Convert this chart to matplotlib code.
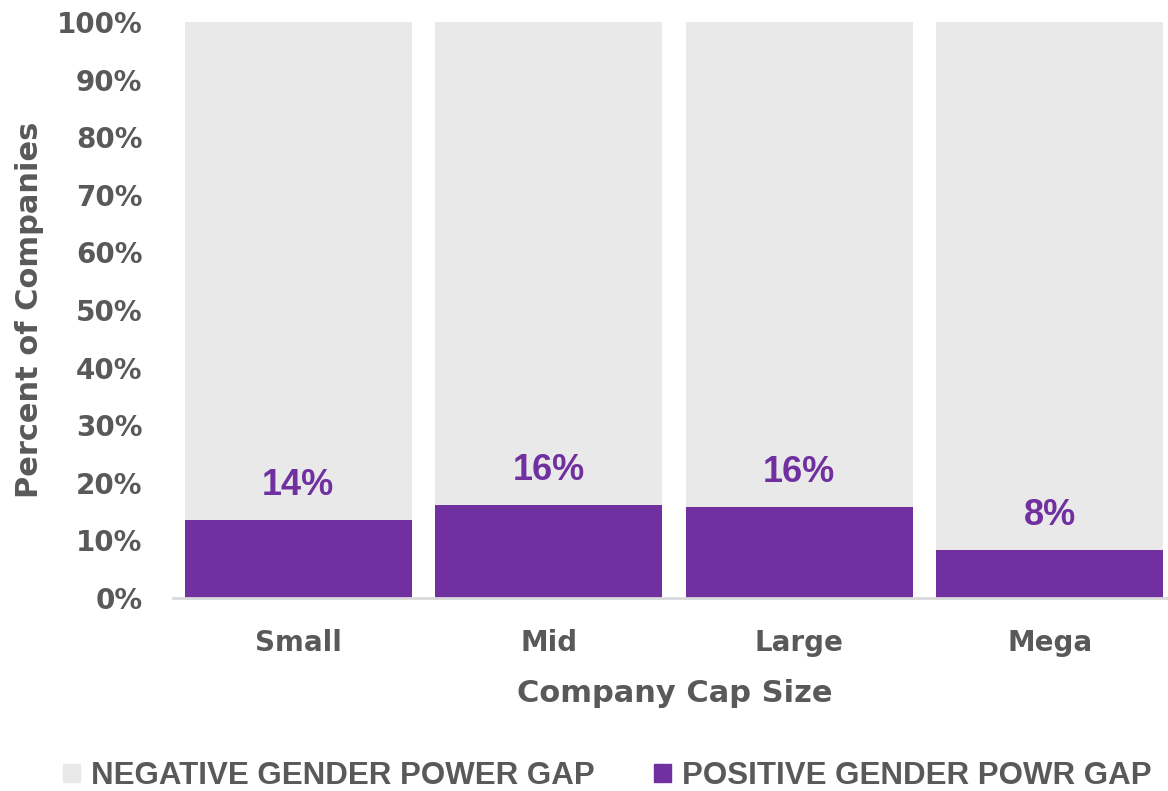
import matplotlib
matplotlib.use("Agg")
import matplotlib.pyplot as plt
from matplotlib.patches import Patch

categories = ["Small", "Mid", "Large", "Mega"]
positive = [13.5, 16.1, 15.8, 8.3]
labels = ["14%", "16%", "16%", "8%"]
negative = [100 - p for p in positive]
yticks = [0, 10, 20, 30, 40, 50, 60, 70, 80, 90, 100]

GRAY = "#595959"
PURPLE = "#7030A0"
LIGHT = "#E9E9E9"
HEAVY = ["DejaVu Sans"]
ARIAL = ["Liberation Sans", "DejaVu Sans"]

fig = plt.figure(figsize=(11.68, 7.91), dpi=100)
ax = fig.add_axes([173/1168, 1-598/791, (1175-173)/1168, (598-22)/791])

x = range(len(categories))
ax.bar(x, positive, width=0.905, color=PURPLE, zorder=2)
ax.bar(x, negative, bottom=positive, width=0.905, color=LIGHT, zorder=2)

for i, (p, lab) in enumerate(zip(positive, labels)):
    ax.annotate(lab, (i, p), xytext=(0, 25), textcoords="offset points",
                ha="center", va="center", color=PURPLE, fontsize=26,
                fontweight="bold", family=ARIAL)

ax.set_xlim(-0.5, 3.5)
ax.set_ylim(0, 100)
ax.set_yticks(yticks)
ax.set_yticklabels([f"{t}%" for t in yticks], fontsize=20, fontweight="bold",
                   color=GRAY, family=HEAVY)
ax.set_xticks(list(x))
ax.set_xticklabels(categories, fontsize=20, fontweight="bold", color=GRAY, family=HEAVY)
ax.tick_params(axis="y", length=0, pad=22)
ax.tick_params(axis="x", length=0, pad=22)
for s in ["top", "right", "left"]:
    ax.spines[s].set_visible(False)
ax.spines["bottom"].set_color("#D9D9D9")
ax.spines["bottom"].set_linewidth(2)
ax.spines["bottom"].set_zorder(3)

ax.set_xlabel("Company Cap Size", fontsize=22, fontweight="bold", color=GRAY, family=HEAVY)
ax.set_ylabel("Percent of Companies", fontsize=22, fontweight="bold", color=GRAY, family=HEAVY)
ax.xaxis.set_label_coords((675-173)/1002, (598-693)/576)
ax.yaxis.set_label_coords((30-173)/1002, (598-310)/576)
ax.xaxis.label.set_va("center")
ax.yaxis.label.set_va("center")

handles = [Patch(color=LIGHT, label="NEGATIVE GENDER POWER GAP"),
           Patch(color=PURPLE, label="POSITIVE GENDER POWR GAP")]
leg = fig.legend(handles=handles, loc="center", bbox_to_anchor=(607/1168, 1-776/791),
                 ncol=2, frameon=False, handlelength=0.55, handleheight=0.55,
                 handletextpad=0.35, columnspacing=1.9, borderpad=0, borderaxespad=0,
                 prop={"family": ARIAL, "weight": "bold", "size": 22.5})
for t in leg.get_texts():
    t.set_color(GRAY)

fig.savefig("out.png", dpi=100, facecolor="white")
